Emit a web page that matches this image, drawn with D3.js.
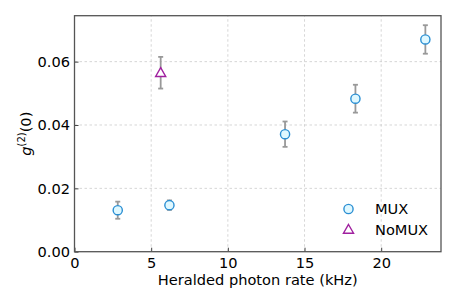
<!DOCTYPE html>
<html><head><meta charset="utf-8">
<script src="https://cdn.jsdelivr.net/npm/d3@7"></script>
<style>body{margin:0;background:#fff;} svg{display:block;font-family:"DejaVu Sans",sans-serif;}</style>
</head><body>
<script>
const muxRate = [2.82, 6.19, 13.73, 18.32, 22.88];
const muxG2 = [0.0131, 0.0147, 0.0371, 0.0483, 0.0670];
const muxErr = [0.0027, 0.0015, 0.0040, 0.0044, 0.0045];
const nomuxRate = [5.62];
const nomuxG2 = [0.0565];
const nomuxErr = [0.0050];
const xTicks = [0, 5, 10, 15, 20];
const yTicks = [0.00, 0.02, 0.04, 0.06];
const legendLabels = ["MUX", "NoMUX"];

const W = 457, H = 305, FS = 14.6;
const m = {l: 74.5, r: 16, t: 15.7, b: 53.3};
const svg = d3.select("body").append("svg").attr("width", W).attr("height", H);
const x = d3.scaleLinear().domain([0, 23.9]).range([m.l, W - m.r]);
const y = d3.scaleLinear().domain([0, 0.0745]).range([H - m.b, m.t]);

// grid
const g = svg.append("g");
g.selectAll("line.gx").data(xTicks.slice(1)).join("line")
  .attr("x1", d => x(d)).attr("x2", d => x(d)).attr("y1", y.range()[0]).attr("y2", y.range()[1])
  .attr("stroke", "#cccccc").attr("stroke-width", 0.8).attr("stroke-dasharray", "2.5,2.5");
g.selectAll("line.gy").data(yTicks.slice(1)).join("line")
  .attr("y1", d => y(d)).attr("y2", d => y(d)).attr("x1", x.range()[0]).attr("x2", x.range()[1])
  .attr("stroke", "#cccccc").attr("stroke-width", 0.8).attr("stroke-dasharray", "2.5,2.5");

// axes
const xAxis = d3.axisBottom(x).tickValues(xTicks).tickFormat(d3.format("d")).tickSizeInner(-4).tickSizeOuter(0).tickPadding(6);
const yAxis = d3.axisLeft(y).tickValues(yTicks).tickFormat(d3.format(".2f")).tickSizeInner(-4).tickSizeOuter(0).tickPadding(4.5);
const gx = svg.append("g").attr("transform", `translate(0,${y.range()[0]})`).call(xAxis);
const gy = svg.append("g").attr("transform", `translate(${x.range()[0]},0)`).call(yAxis);
[gx, gy].forEach(a => {
  a.select(".domain").remove();
  a.selectAll(".tick line").attr("stroke", "#444").attr("stroke-width", 1);
  a.selectAll(".tick text").attr("font-size", FS).attr("fill", "#000").attr("font-family", "DejaVu Sans");
});
// frame
svg.append("rect").attr("x", x.range()[0]).attr("y", y.range()[1])
  .attr("width", x.range()[1] - x.range()[0]).attr("height", y.range()[0] - y.range()[1])
  .attr("fill", "none").attr("stroke", "#555").attr("stroke-width", 1.3);

// error bars
function errbars(xs, ys, es) {
  const d = xs.map((v, i) => ({x: v, y: ys[i], e: es[i]}));
  const eg = svg.append("g").attr("stroke", "#999").attr("stroke-width", 1.8);
  eg.selectAll("line.v").data(d).join("line")
    .attr("x1", d => x(d.x)).attr("x2", d => x(d.x)).attr("y1", d => y(d.y - d.e)).attr("y2", d => y(d.y + d.e));
  eg.selectAll("line.t").data(d).join("line")
    .attr("x1", d => x(d.x) - 2.5).attr("x2", d => x(d.x) + 2.5).attr("y1", d => y(d.y + d.e)).attr("y2", d => y(d.y + d.e));
  eg.selectAll("line.b").data(d).join("line")
    .attr("x1", d => x(d.x) - 2.5).attr("x2", d => x(d.x) + 2.5).attr("y1", d => y(d.y - d.e)).attr("y2", d => y(d.y - d.e));
}
errbars(muxRate, muxG2, muxErr);
errbars(nomuxRate, nomuxG2, nomuxErr);

const circFill = "#dff8ff", circStroke = "#2b8fd3";
const triStroke = "#a0209f";
const tri = d3.symbol().type(d3.symbolTriangle).size(44);

svg.append("g").selectAll("circle").data(muxRate).join("circle")
  .attr("cx", d => x(d)).attr("cy", (d, i) => y(muxG2[i])).attr("r", 4.6)
  .attr("fill", circFill).attr("stroke", circStroke).attr("stroke-width", 1.4);
svg.append("g").selectAll("path").data(nomuxRate).join("path")
  .attr("d", tri).attr("transform", (d, i) => `translate(${x(d)},${y(nomuxG2[i]) + 0.8})`)
  .attr("fill", "#fff").attr("stroke", triStroke).attr("stroke-width", 1.4);

// legend
const lg = svg.append("g");
lg.append("circle").attr("cx", 348.5).attr("cy", 209).attr("r", 4.6)
  .attr("fill", circFill).attr("stroke", circStroke).attr("stroke-width", 1.4);
lg.append("path").attr("d", tri).attr("transform", "translate(348.5,230.3)")
  .attr("fill", "#fff").attr("stroke", triStroke).attr("stroke-width", 1.4);
lg.selectAll("text").data(legendLabels).join("text")
  .attr("x", 375).attr("y", (d, i) => 209 + i * 20.8).attr("dy", "0.36em")
  .attr("font-size", FS).attr("fill", "#000").text(d => d);

// axis labels
svg.append("text").attr("x", (x.range()[0] + x.range()[1]) / 2).attr("y", 285)
  .attr("text-anchor", "middle").attr("font-size", FS).text("Heralded photon rate (kHz)");
const yl = svg.append("text").attr("transform", `translate(31,${(y.range()[0] + y.range()[1]) / 2}) rotate(-90)`)
  .attr("text-anchor", "middle").attr("font-size", FS);
yl.append("tspan").text("g").attr("font-style", "italic");
yl.append("tspan").text("(2)").attr("font-size", 10).attr("dy", -6);
yl.append("tspan").text("(0)").attr("dy", 6);
</script>
</body></html>
